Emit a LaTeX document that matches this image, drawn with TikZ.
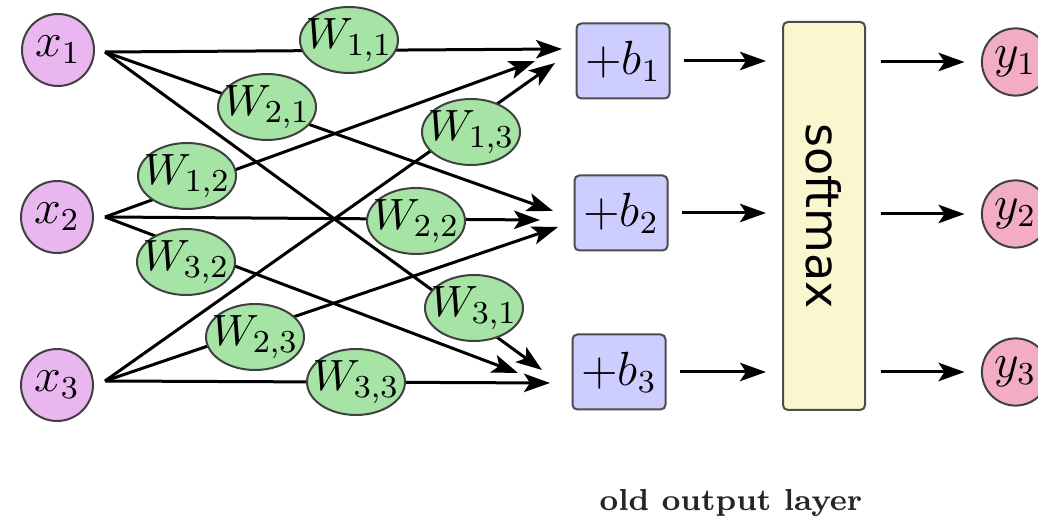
\documentclass[tikz,border=0pt]{standalone}
\usepackage{fontspec}
\newfontfamily\smfont{DejaVu Sans}
\usetikzlibrary{shapes.geometric,arrows.meta}

\definecolor{inpink}{RGB}{233,182,240}
\definecolor{outpink}{RGB}{243,172,198}
\definecolor{wgreen}{RGB}{166,228,166}
\definecolor{bblue}{RGB}{205,205,255}
\definecolor{smyellow}{RGB}{250,246,205}

\tikzset{
  edge/.style={line width=0.75pt, draw=black},
  arr/.style={edge, -{Stealth[length=6.5pt,width=4.6pt,inset=1.5pt]}},
  innode/.style={circle, draw=black!75, line width=0.5pt, fill=inpink,
    minimum size=18pt, inner sep=0pt, font=\fontsize{12}{14}\selectfont},
  outnode/.style={circle, draw=black!75, line width=0.5pt, fill=outpink,
    minimum size=16.8pt, inner sep=0pt, font=\fontsize{12}{14}\selectfont},
  wnode/.style={ellipse, draw=black!75, line width=0.5pt, fill=wgreen,
    minimum width=24.5pt, minimum height=16.5pt, inner xsep=-2.2pt, inner ysep=0pt,
    font=\fontsize{10.95}{13}\selectfont},
  bnode/.style={rectangle, rounded corners=1.2pt, draw=black!70, line width=0.5pt,
    fill=bblue, minimum width=23.25pt, minimum height=18.75pt, inner sep=0pt,
    font=\fontsize{12}{14}\selectfont},
  smnode/.style={rectangle, rounded corners=1.2pt, draw=black!70, line width=0.5pt,
    fill=smyellow, minimum width=20.5pt, minimum height=97pt, inner sep=0pt},
}

\begin{document}
\begin{tikzpicture}[x=0.25pt, y=-0.25pt]
  \useasboundingbox (0,0) rectangle (1038,521);
  \clip (0,0) rectangle (1038,521);

  % inputs
  \node[innode] (x1) at (58,50)  {$x_1$};
  \node[innode] (x2) at (57,217) {$x_2$};
  \node[innode] (x3) at (57,385) {$x_3$};

  % fan-out points beside the inputs
  \coordinate (s1) at (105,52);
  \coordinate (s2) at (105,217);
  \coordinate (s3) at (105,381);

  % arrow ends in front of the bias boxes
  \coordinate (t11) at (562,49);
  \coordinate (t12) at (535,61);
  \coordinate (t13) at (555,63);
  \coordinate (t21) at (553,211);
  \coordinate (t22) at (540,220);
  \coordinate (t23) at (558,227);
  \coordinate (t31) at (542,370);
  \coordinate (t32) at (518,373);
  \coordinate (t33) at (550,383);

  % weighted connections (drawn beneath the weight labels)
  \draw[arr] (s1) -- (t11);
  \draw[arr] (s1) -- (t21);
  \draw[arr] (s1) -- (t31);
  \draw[arr] (s2) -- (t12);
  \draw[arr] (s2) -- (t22);
  \draw[arr] (s2) -- (t32);
  \draw[arr] (s3) -- (t13);
  \draw[arr] (s3) -- (t23);
  \draw[arr] (s3) -- (t33);

  % weights
  \node[wnode] (w11) at (349,40)  {$W_{1,1}$};
  \node[wnode] (w21) at (267,107) {$W_{2,1}$};
  \node[wnode] (w31) at (474,308) {$W_{3,1}$};
  \node[wnode] (w12) at (187,176) {$W_{1,2}$};
  \node[wnode] (w22) at (416,221) {$W_{2,2}$};
  \node[wnode] (w32) at (186,262) {$W_{3,2}$};
  \node[wnode] (w13) at (471,132) {$W_{1,3}$};
  \node[wnode] (w23) at (255,337) {$W_{2,3}$};
  \node[wnode] (w33) at (356,382) {$W_{3,3}$};

  % biases
  \node[bnode] (b1) at (623,61)  {$+b_1$};
  \node[bnode] (b2) at (621,213) {$+b_2$};
  \node[bnode] (b3) at (619,372) {$+b_3$};

  % softmax
  \node[smnode] (sm) at (824,216) {};
  \node[rotate=-90, font=\smfont\fontsize{11.5}{13}\selectfont] (smlabel) at (sm.center) {softmax};

  % outputs
  \node[outnode] (y1) at (1015.5,62)  {$y_1$};
  \node[outnode] (y2) at (1015.5,214) {$y_2$};
  \node[outnode] (y3) at (1015.5,372) {$y_3$};

  \draw[arr, shorten <=3.4pt, shorten >=4pt] (b1.east) -- (b1.east -| sm.west);
  \draw[arr, shorten <=3.4pt, shorten >=4pt] (b2.east) -- (b2.east -| sm.west);
  \draw[arr, shorten <=3.4pt, shorten >=4pt] (b3.east) -- (b3.east -| sm.west);

  \draw[arr, shorten <=3.8pt, shorten >=4.1pt] (sm.east |- y1) -- (y1.west);
  \draw[arr, shorten <=3.8pt, shorten >=4.1pt] (sm.east |- y2) -- (y2.west);
  \draw[arr, shorten <=3.8pt, shorten >=4.1pt] (sm.east |- y3) -- (y3.west);

  \node[font=\fontsize{7.6}{9}\selectfont\bfseries, text=black!85] (caption) at (731,503) {old output layer};
\end{tikzpicture}
\end{document}
